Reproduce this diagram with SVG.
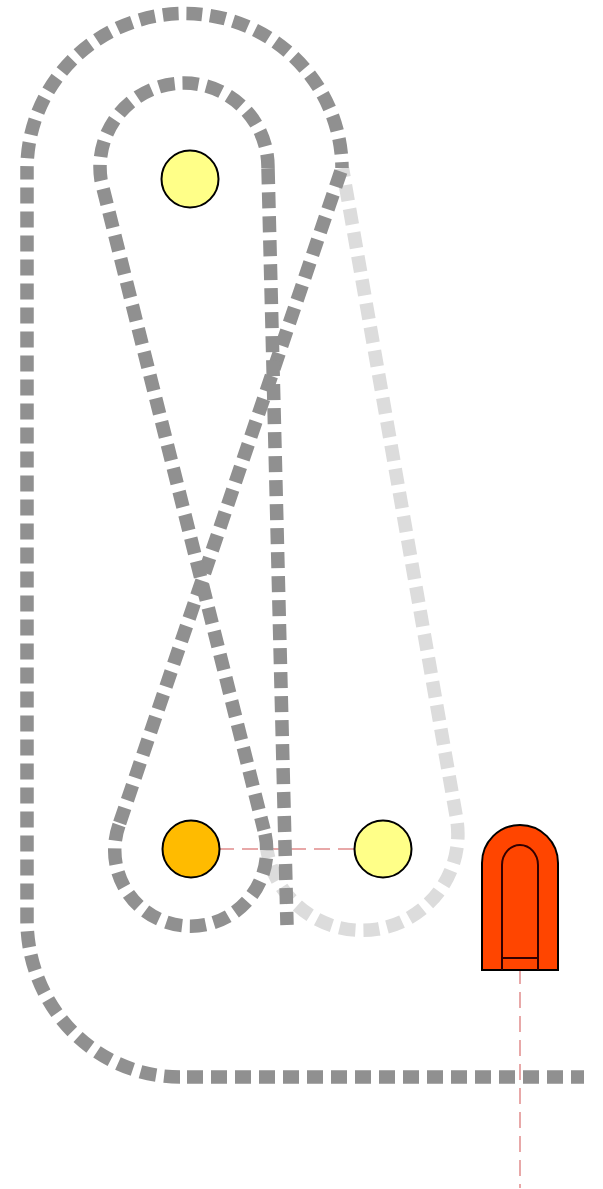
<svg xmlns="http://www.w3.org/2000/svg" width="603" height="1189" viewBox="0 0 603 1189">
<style>
.t{fill:none;stroke-width:13.500;stroke-dasharray:16 8}
.d{stroke:#909090}.l{stroke:#dcdcdc}
.c{stroke:#000;stroke-width:2}
.i{stroke:#300;stroke-width:2;fill:none}
.r{stroke:#e8a8a8;stroke-width:2;stroke-dasharray:16 8;fill:none}
</style>
<rect width="603" height="1189" fill="#fff"/>
<g id="connectors">
<path class="r" d="M218 849H356"/>
<path class="r" d="M520 968V1188"/>
<path class="t l" stroke-dashoffset="6.600" d="M342.400 168L456.600 818.500A96 96 0 1 1 267 850"/>
<path class="t d" stroke-dashoffset="3" d="M584 1077H180"/>
<path class="t d" d="M180 1077A153 157 0 0 1 27 920V170"/>
<path class="t d" stroke-dashoffset="12" pathLength="498" d="M27 170A157.500 155.500 0 0 1 342 168"/>
<path class="t d" stroke-dashoffset="-3.700" d="M342 168L119 825"/>
<path class="t d" d="M119 825A76 76 0 1 0 264 830"/>
<path class="t d" stroke-dashoffset="3" d="M264 830L102.700 187"/>
<path class="t d" stroke-dashoffset="2" d="M268 168A84 84 0 1 0 101 180L102.700 187"/>
<path class="t d" stroke-dashoffset="3" d="M287 925L268 168"/>
</g>
<g id="node-top"><circle class="c" cx="190" cy="179" r="28.500" fill="#ffff88"/></g>
<g id="node-left"><circle class="c" cx="191" cy="849" r="28.500" fill="#ffbb00"/></g>
<g id="node-right"><circle class="c" cx="383" cy="849" r="28.500" fill="#ffff88"/></g>
<g id="shed">
<path class="c" d="M482 970V863A38 38 0 0 1 558 863V970Z" fill="#ff4500"/>
<path class="i" d="M502 970V865A18 20 0 0 1 538 865V970M502 958H538"/>
</g>
</svg>
